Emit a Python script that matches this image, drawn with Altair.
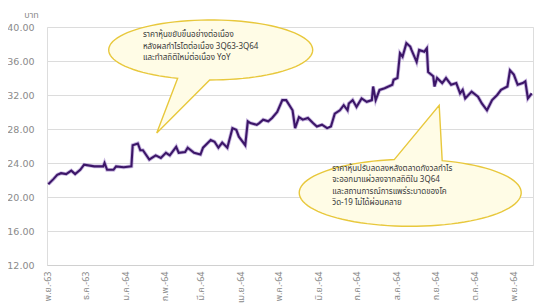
import math
import altair as alt
import pandas as pd

# ---------------- data ----------------
dates = [
    "2020-11-02", "2020-11-06", "2020-11-09", "2020-11-12", "2020-11-16", "2020-11-20",
    "2020-11-23", "2020-11-27", "2020-11-30", "2020-12-08", "2020-12-15", "2020-12-16",
    "2020-12-18", "2020-12-23", "2020-12-25", "2020-12-31", "2021-01-06", "2021-01-07",
    "2021-01-11", "2021-01-13", "2021-01-15", "2021-01-20", "2021-01-22", "2021-01-25",
    "2021-01-29", "2021-02-02", "2021-02-05", "2021-02-10", "2021-02-12", "2021-02-17",
    "2021-02-19", "2021-02-24", "2021-03-01", "2021-03-03", "2021-03-09", "2021-03-12",
    "2021-03-15", "2021-03-18", "2021-03-22", "2021-03-26", "2021-03-29", "2021-03-31",
    "2021-04-05", "2021-04-07", "2021-04-09", "2021-04-14", "2021-04-16", "2021-04-19",
    "2021-04-23", "2021-04-26", "2021-04-30", "2021-05-04", "2021-05-07", "2021-05-12",
    "2021-05-14", "2021-05-17", "2021-05-20", "2021-05-24", "2021-05-28", "2021-05-31",
    "2021-06-04", "2021-06-08", "2021-06-11", "2021-06-14", "2021-06-18", "2021-06-21",
    "2021-06-24", "2021-06-25", "2021-06-28", "2021-07-01", "2021-07-05", "2021-07-09",
    "2021-07-13", "2021-07-14", "2021-07-16", "2021-07-19", "2021-07-23", "2021-07-29",
    "2021-07-30", "2021-08-02", "2021-08-04", "2021-08-06", "2021-08-09", "2021-08-12",
    "2021-08-13", "2021-08-17", "2021-08-19", "2021-08-23", "2021-08-25", "2021-08-26",
    "2021-08-30", "2021-08-31", "2021-09-02", "2021-09-06", "2021-09-09", "2021-09-13",
    "2021-09-17", "2021-09-20", "2021-09-22", "2021-09-24", "2021-09-29", "2021-10-04",
    "2021-10-07", "2021-10-11", "2021-10-13", "2021-10-15", "2021-10-19", "2021-10-22",
    "2021-10-27", "2021-10-29", "2021-11-01", "2021-11-04", "2021-11-08", "2021-11-10",
    "2021-11-12", "2021-11-15",
]
prices = [
    21.5, 22.1, 22.6, 22.8, 22.7, 23.1,
    22.7, 23.2, 23.8, 23.6, 23.6, 24.0,
    23.2, 23.2, 23.6, 23.5, 23.6, 26.1,
    26.3, 25.5, 25.5, 24.4, 24.6, 24.9,
    24.6, 25.2, 24.9, 25.9, 25.2, 25.3,
    25.8, 25.2, 25.0, 25.8, 26.7, 26.5,
    25.8, 26.4, 25.8, 28.1, 27.9, 27.1,
    26.1, 28.9, 28.7, 28.5, 28.7, 29.1,
    28.9, 29.3, 30.0, 31.4, 31.4, 30.2,
    28.1, 29.4, 29.1, 29.3, 28.7, 28.3,
    28.5, 28.1, 28.3, 29.8, 30.2, 30.8,
    30.2, 31.0, 31.4, 30.6, 31.6, 31.2,
    31.4, 33.0, 31.4, 32.6, 32.8, 33.2,
    33.8, 34.0, 36.9, 36.5, 38.1, 37.7,
    37.3, 35.9, 37.3, 37.1, 37.5, 34.7,
    34.2, 33.0, 34.0, 33.4, 34.0, 33.2,
    33.4, 32.2, 32.6, 31.6, 32.4, 31.8,
    31.0, 30.2, 30.8, 31.4, 32.0, 32.6,
    33.0, 34.9, 34.4, 33.2, 33.4, 33.6,
    31.6, 32.2,
]

y_ticks = [12, 16, 20, 24, 28, 32, 36, 40]
x_tick_dates = [
    "2020-11-01", "2020-12-01", "2021-01-01", "2021-02-01", "2021-03-01",
    "2021-04-01", "2021-05-01", "2021-06-01", "2021-07-01", "2021-08-01",
    "2021-09-01", "2021-10-01", "2021-11-01",
]
month_th = ["ม.ค.", "ก.พ.", "มี.ค.", "เม.ย.", "พ.ค.", "มิ.ย.",
            "ก.ค.", "ส.ค.", "ก.ย.", "ต.ค.", "พ.ย.", "ธ.ค."]
unit_label = "บาท"

callout1_lines = [
    "ราคาหุ้นขยับขึ้นอย่างต่อเนื่อง",
    "หลังผลกำไรโตต่อเนื่อง 3Q63-3Q64",
    "และทำสถิติใหม่ต่อเนื่อง YoY",
]
callout2_lines = [
    "ราคาหุ้นปรับลดลงหลังตลาดกังวลกำไร",
    "จะออกมาแผ่วลงจากสถิติใน 3Q64",
    "และสถานการณ์การแพร่ระบาดของโค",
    "วิด-19 ไม่ได้ผ่อนคลาย",
]
# bubble anchor (centre) and text anchor (top-left) in data coordinates
callout1_center = ("2021-03-09", 37.3)
callout1_text_at = ("2021-01-15", 39.5)
callout2_center = ("2021-08-12", 20.5)
callout2_text_at = ("2021-06-12", 23.8)

# ---------------- helpers ----------------
def dt(s):
    y, m, d = (int(p) for p in s.split("-"))
    return alt.DateTime(year=y, month=m, date=d)


def bubble_path(ry, bx1, bx2, tip, bottom_tail):
    """Speech-bubble outline in the unit box [-1, 1] (ellipse + triangular tail)."""
    sgn = 1 if bottom_tail else -1
    y1 = sgn * ry * math.sqrt(1 - bx1 ** 2)
    y2 = sgn * ry * math.sqrt(1 - bx2 ** 2)
    t1 = math.atan2(y1 / ry, bx1)
    t2 = math.atan2(y2 / ry, bx2)
    delta = t1 - t2
    end = t1 - 2 * math.pi if delta > 0 else t1 + 2 * math.pi
    pts = [(bx1, y1), tip, (bx2, y2)]
    n = 90
    for i in range(1, n):
        t = t2 + (end - t2) * i / n
        pts.append((math.cos(t), ry * math.sin(t)))
    return "M " + " L ".join(f"{x:.4f} {y:.4f}" for x, y in pts) + " Z"


df = pd.DataFrame({"date": dates, "price": prices})

month_js = "[" + ",".join(f"'{m}'" for m in month_th) + "]"
label_expr = (month_js + "[month(datum.value)] + '-' + "
              "format((year(datum.value) + 543) % 100, '02d')")

x_enc = alt.X(
    "date:T",
    scale=alt.Scale(domain=[dt("2020-11-01"), dt("2021-11-16")], nice=False),
    axis=alt.Axis(
        title=None, values=[dt(s) for s in x_tick_dates], tickCount=30,
        labelExpr=label_expr,
        labelAngle=270, labelAlign="right", labelBaseline="middle",
        labelPadding=6, ticks=False, grid=False, domain=True,
        domainColor="#d0d0d0", labelColor="#8a8a8a", labelFontSize=9,
        labelOverlap=False,
        labelFont="Tahoma, 'Noto Sans Thai', sans-serif",
    ),
)
y_enc = alt.Y(
    "price:Q",
    scale=alt.Scale(domain=[12, 40], nice=False, zero=False),
    axis=alt.Axis(
        title=unit_label, titleAngle=0, titleX=-16, titleY=-8,
        titleAlign="center", titleBaseline="bottom", titleFontSize=9,
        titleFontWeight="normal", titleColor="#8a8a8a",
        titleFont="Tahoma, 'Noto Sans Thai', sans-serif",
        values=y_ticks, tickCount=20, format=".2f", ticks=False, domain=False,
        grid=True, gridColor="#dcdcdc", gridWidth=1,
        labelColor="#8a8a8a", labelFontSize=9.5, labelPadding=13,
        labelOverlap=False, labelFont="DejaVu Sans",
    ),
)

base = alt.Chart(df).encode(x=x_enc, y=y_enc)
line_glow = base.mark_line(color="#9a7cc6", strokeWidth=3.8, opacity=0.55)
line_core = base.mark_line(color="#3c1668", strokeWidth=2.1)

bub_df1 = pd.DataFrame({"date": [callout1_center[0]], "price": [callout1_center[1]]})
bub_df2 = pd.DataFrame({"date": [callout2_center[0]], "price": [callout2_center[1]]})

path1 = bubble_path(0.294, -0.324, -0.01, (-0.529, 0.814), True)
path2 = bubble_path(0.302, -0.144, 0.288, (0.261, -0.788), False)

bubble1 = alt.Chart(bub_df1).mark_point(
    shape=path1, size=204 ** 2, filled=True, fill="#fffce6", stroke="#e8c83c",
    strokeWidth=1.4, opacity=1, fillOpacity=1, strokeOpacity=1,
).encode(x="date:T", y="price:Q")
bubble2 = alt.Chart(bub_df2).mark_point(
    shape=path2, size=222 ** 2, filled=True, fill="#fffce6", stroke="#e8c83c",
    strokeWidth=1.4, opacity=1, fillOpacity=1, strokeOpacity=1,
).encode(x="date:T", y="price:Q")

txt_df1 = pd.DataFrame({"date": [callout1_text_at[0]], "price": [callout1_text_at[1]],
                        "t": ["\n".join(callout1_lines)]})
txt_df2 = pd.DataFrame({"date": [callout2_text_at[0]], "price": [callout2_text_at[1]],
                        "t": ["\n".join(callout2_lines)]})
txt_style = dict(align="left", baseline="top", lineBreak="\n", lineHeight=11.5,
                 fontSize=8, color="#3a3a3a",
                 font="Tahoma, 'Noto Sans Thai', sans-serif")
text1 = alt.Chart(txt_df1).mark_text(**txt_style).encode(x="date:T", y="price:Q", text="t:N")
text2 = alt.Chart(txt_df2).mark_text(**txt_style).encode(x="date:T", y="price:Q", text="t:N")

chart = alt.layer(line_glow, line_core, bubble1, bubble2, text1, text2).properties(
    width=486, height=238,
    autosize=alt.AutoSizeParams(type="none"),
    padding={"left": 39, "top": 19, "right": 1, "bottom": 41},
).configure_view(stroke=None).configure(background="white")

chart.save("out.html", embed_options={"renderer": "svg", "actions": False})
